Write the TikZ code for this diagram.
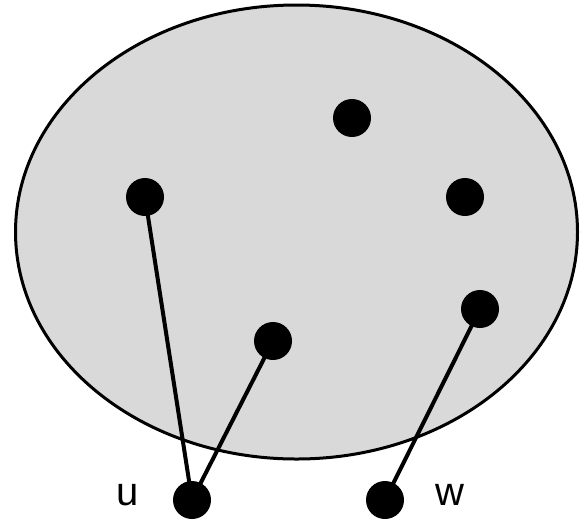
\documentclass[tikz,border=0pt]{standalone}
\usepackage{fontspec}
\setmainfont{Liberation Sans}
\begin{document}
\begin{tikzpicture}[x=1pt,y=-1pt,
  dot/.style={circle,fill=black,inner sep=0pt,minimum size=38pt},
  edge/.style={line width=4pt},
  lbl/.style={font=\fontsize{40}{40}\selectfont,inner sep=0pt}]
\useasboundingbox (0,0) rectangle (580,523);
\draw[line width=3pt,fill=black!15] (296.5,232) ellipse [x radius=281, y radius=227];
\node[dot] (a) at (352,118) {};
\node[dot] (b) at (145,197) {};
\node[dot] (c) at (465,197) {};
\node[dot] (d) at (273,341) {};
\node[dot] (e) at (480,309) {};
\node[dot] (u) at (192,500) {};
\node[dot] (w) at (385,500) {};
\draw[edge] (b.center) -- (u.center);
\draw[edge] (d.center) -- (u.center);
\draw[edge] (e.center) -- (w.center);
\node[lbl] (ul) at (128,495) {u};
\node[lbl] (wl) at (450,495) {w};
\end{tikzpicture}
\end{document}
